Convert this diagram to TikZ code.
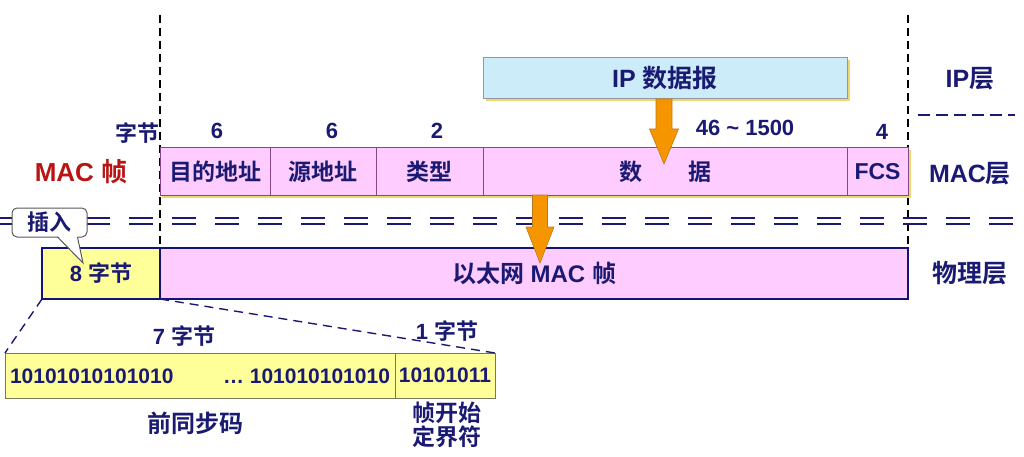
\documentclass[tikz,border=0pt]{standalone}
\usepackage{fontspec}
\setmainfont{Liberation Sans}
\newfontfamily\cjk{Noto Sans CJK SC}[BoldFont={Noto Sans CJK SC Bold}]
\newcommand\zh[1]{{\cjk #1}}
\usetikzlibrary{calc}
\definecolor{navy}{RGB}{26,26,115}
\definecolor{macred}{RGB}{185,20,20}
\definecolor{pinkfill}{RGB}{255,204,255}
\definecolor{pinkborder}{RGB}{135,70,135}
\definecolor{ethborder}{RGB}{20,20,120}
\definecolor{ipfill}{RGB}{204,236,250}
\definecolor{ipborder}{RGB}{150,150,160}
\definecolor{yfill}{RGB}{255,255,153}
\definecolor{yborder}{RGB}{120,120,90}
\definecolor{shadowy}{RGB}{238,215,110}
\definecolor{orangec}{RGB}{245,150,0}
\definecolor{orangeedge}{RGB}{190,120,30}
\begin{document}
\begin{tikzpicture}[x=1pt,y=-1pt,
  every node/.style={inner sep=0pt,outer sep=0pt,text=navy},
  fs/.style={font=\bfseries\fontsize{#1}{#1}\selectfont},
  cell/.style={draw=pinkborder,fill=pinkfill,line width=1,anchor=north west,minimum height=47,fs=23},
  vdash/.style={black,line width=1.4,dash pattern=on 8pt off 5pt},
  hdash/.style={navy,line width=1.4,dash pattern=on 24pt off 19pt},
  zoomdash/.style={navy,line width=1.4,dash pattern=on 9pt off 6pt},
  arrowpoly/.style={fill=orangec,draw=orangeedge,line width=0.6,line join=miter},
]
\useasboundingbox (0,0) rectangle (1024,457);

% vertical dashed guides
\coordinate (vl1) at (160,15); \coordinate (vl2) at (160,250);
\coordinate (vr1) at (908,15); \coordinate (vr2) at (908,250);
\draw[vdash] (vl1) -- (vl2);
\draw[vdash] (vr1) -- (vr2);

% double dashed layer separator
\coordinate (dd1) at (0,218); \coordinate (dd2) at (1024,218);
\coordinate (de1) at (0,224); \coordinate (de2) at (1024,224);
\draw[hdash] (dd1) -- (dd2);
\draw[hdash] (de1) -- (de2);

% IP / MAC layer separator
\coordinate (ipl1) at (918,115); \coordinate (ipl2) at (1015,115);
\draw[navy,line width=1.4,dash pattern=on 12pt off 6pt] (ipl1) -- (ipl2);

% IP datagram
\fill[shadowy] (485.5,60.5) rectangle (850,101);
\node[draw=ipborder,fill=ipfill,line width=1,anchor=north west,minimum width=364,minimum height=41,fs=25] (ip) at (483,58) {IP \zh{数据报}};

% MAC frame
\fill[shadowy] (162,150) rectangle (910.5,197.5);
\node[cell,minimum width=110] (dst) at (160,148) {\zh{目的地址}};
\node[cell,minimum width=106] (src) at (270,148) {\zh{源地址}};
\node[cell,minimum width=107] (typ) at (376,148) {\zh{类型}};
\node[cell,minimum width=364] (data) at (483,148) {\zh{数}\hspace{46pt}\zh{据}};
\node[cell,minimum width=61] (fcs) at (847,148) {FCS};

% byte counts
\node[fs=22] (bytes) at (137,133) {\zh{字节}};
\node[fs=22] (n1) at (217,131) {6};
\node[fs=22] (n2) at (332,131) {6};
\node[fs=22] (n3) at (437,131) {2};
\node[fs=22] (n4) at (745,128) {46 \textasciitilde\ 1500};
\node[fs=22] (n5) at (882,132) {4};

\node[fs=26,text=macred] (maclbl) at (81,172) {MAC \zh{帧}};

% layer names
\node[fs=25] (iplayer) at (970,79) {IP\zh{层}};
\node[fs=25] (maclayer) at (970,174) {MAC\zh{层}};
\node[fs=25] (phylayer) at (970,273) {\zh{物理层}};

% physical frame
\node[draw=ethborder,fill=yfill,line width=1.6,anchor=north west,minimum width=118,minimum height=51,fs=22] (pre8) at (42,248) {8 \zh{字节}};
\node[draw=ethborder,fill=pinkfill,line width=1.6,anchor=north west,minimum width=748,minimum height=51,fs=24] (eth) at (160,248) {\zh{以太网} MAC \zh{帧}};

% callout
\node[draw=black!65,fill=white,line width=1,rounded corners=5pt,minimum width=75,minimum height=29,fs=22] (ins) at (49.5,222.5) {\zh{插入}};
\coordinate (instip) at (83,263);
\fill[white] (57.5,235.4) -- (instip) -- (77.5,235.4) -- cycle;
\draw[black!65,line width=1] (57.5,237) -- (instip) -- (77.5,237);

% orange arrows (IP -> data, MAC frame -> physical frame)
\coordinate (t1) at (664,164);
\coordinate (a1) at (ip.south -| t1);
\draw[arrowpoly] ($(a1)+(-8,0)$) -- ($(t1)+(-8,-35)$) -- ($(t1)+(-14.5,-35)$) -- (t1)
  -- ($(t1)+(14.5,-35)$) -- ($(t1)+(8,-35)$) -- ($(a1)+(8,0)$) -- cycle;
\coordinate (t2) at (540,263);
\coordinate (a2) at (data.south -| t2);
\draw[arrowpoly] ($(a2)+(-7.5,0)$) -- ($(t2)+(-7.5,-36)$) -- ($(t2)+(-14,-36)$) -- (t2)
  -- ($(t2)+(14,-36)$) -- ($(t2)+(7.5,-36)$) -- ($(a2)+(7.5,0)$) -- cycle;

% preamble detail
\node[draw=yborder,fill=yfill,line width=1,anchor=north west,minimum width=390,minimum height=45] (sync) at (5,353) {};
\node[draw=yborder,fill=yfill,line width=1,anchor=north west,minimum width=100,minimum height=45,fs=21] (sfd) at (395,353) {10101011};
\node[fs=21,anchor=west] (s1) at (10,376) {10101010101010};
\node[fs=21,anchor=east] (s2) at (390,376) {\dots\ 101010101010};

\draw[zoomdash] (pre8.south west) -- (sync.north west);
\draw[zoomdash] (pre8.south east) -- (sfd.north east);

\node[fs=22] (b7) at (184,336) {7 \zh{字节}};
\node[fs=22] (b1) at (447,331) {1 \zh{字节}};
\node[fs=24] (syncl) at (195,423) {\zh{前同步码}};
\node[fs=23,align=center] (sfdl) at (447,425) {\zh{帧开始}\\[1pt]\zh{定界符}};
\end{tikzpicture}
\end{document}
